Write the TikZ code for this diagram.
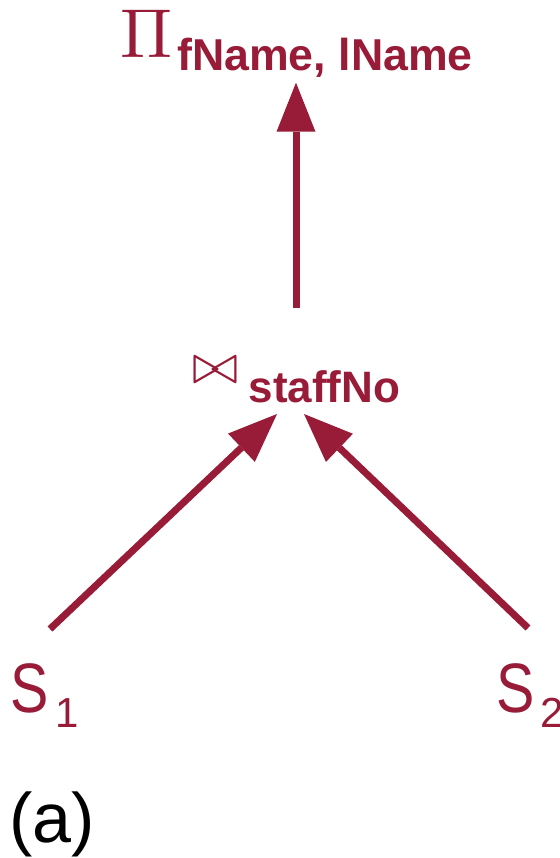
\documentclass[tikz,border=0pt]{standalone}
\usepackage{graphicx}
\usepackage[no-math]{fontspec}
\setmainfont{Liberation Sans}
\usetikzlibrary{arrows.meta}
\definecolor{dbred}{RGB}{152,27,56}
\newcommand{\relname}[1]{\fontsize{52.5pt}{53pt}\selectfont\scalebox{0.82}[1]{S}\hspace{4.5pt}\raisebox{-11.25pt}{\fontsize{31.5pt}{32pt}\selectfont #1}}
\begin{document}
\begin{tikzpicture}[x=0.75pt,y=-0.75pt]
\tikzset{
  lbl/.style={inner sep=0pt, outer sep=0pt, text=dbred, anchor=base west},
  arr/.style={draw=dbred, line width=5.25pt,
    -{Triangle[length=36.75pt,width=29.25pt,line width=0pt]}},
}
\fill[white] (0,0) rectangle (560,858);
\useasboundingbox (0,0) rectangle (560,858);

% projection on fName, lName
\node[lbl] (proj) at (120,57)
  {\scalebox{5.2}{$\Pi$}\hspace{4pt}\raisebox{-9.75pt}{\fontsize{33.5pt}{34pt}\selectfont\bfseries fName, lName}};
% join on staffNo
\node[lbl] (join) at (192,383)
  {\scalebox{4.2}{$\bowtie$}\hspace{7.5pt}\raisebox{-14.25pt}{\fontsize{33pt}{34pt}\selectfont\bfseries staffNo}};
% the two relations
\node[lbl] (s1) at (11,712) {\relname{1}};
\node[lbl] (s2) at (496,712) {\relname{2}};
% caption
\node[lbl, text=black] (cap) at (9,842) {\fontsize{52.5pt}{53pt}\selectfont (a)};

% edges of the tree
\draw[arr] ([shift={(104,-75)}]join.base west) -- ([shift={(176,25.7)}]proj.base west);
\draw[arr] ([shift={(39,-83)}]s1.base west) -- ([shift={(85,31)}]join.base west);
\draw[arr] ([shift={(32,-84)}]s2.base west) -- ([shift={(112,31)}]join.base west);
\end{tikzpicture}
\end{document}
